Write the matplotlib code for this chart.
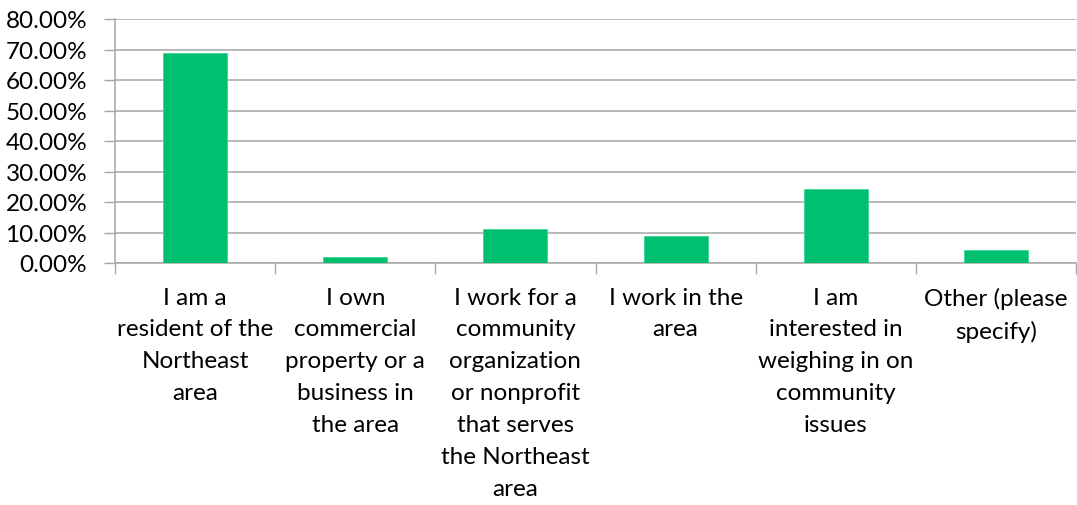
import matplotlib.pyplot as plt
from matplotlib.ticker import FuncFormatter, FixedLocator
import numpy as np

# ===============================
#  DATA
# ===============================
categories = [
    "I am a\nresident of the\nNortheast\narea",
    "I own\ncommercial\nproperty or a\nbusiness in\nthe area",
    "I work for a\ncommunity\norganization\nor nonprofit\nthat serves\nthe Northeast\narea",
    "I work in the\narea",
    "I am\ninterested in\nweighing in on\ncommunity\nissues",
    "Other (please\nspecify)",
]
percent = [68.9, 2.0, 11.05, 8.75, 24.25, 4.25]
y_ticks = [0, 10, 20, 30, 40, 50, 60, 70, 80]

# ===============================
#  STYLE
# ===============================
plt.rcParams['font.family'] = ['Lato', 'DejaVu Sans']
bar_color = "#00BF6F"
grid_color = "#A6A6A6"
font_size = 17.5

fig = plt.figure(figsize=(10.77, 5.06), dpi=100)
ax = fig.add_axes([115 / 1077, (506 - 264) / 506, (1076 - 115) / 1077, 244 / 506])

x = np.arange(len(categories))
ax.bar(x, percent, width=0.4, color=bar_color, edgecolor="#3dd693",
       linewidth=0.6, zorder=3)

ax.set_xlim(-0.5, len(categories) - 0.5)
ax.set_ylim(0, 80)

# y axis
ax.set_yticks(y_ticks)
ax.yaxis.set_major_formatter(FuncFormatter(lambda v, p: f"{v:.2f}%"))
ax.tick_params(axis="y", length=8, width=1, color=grid_color, pad=12,
               labelsize=font_size, labelcolor="#000000")
ax.grid(axis="y", color=grid_color, linewidth=1.1, zorder=0)

# x axis: ticks at the boundaries, labels at the centres
ax.xaxis.set_major_locator(FixedLocator(np.arange(-0.5, len(categories), 1.0)))
ax.xaxis.set_major_formatter(FuncFormatter(lambda v, p: ""))
ax.xaxis.set_minor_locator(FixedLocator(x))
ax.set_xticklabels(categories, minor=True)
ax.tick_params(axis="x", which="major", length=8, width=1, color=grid_color)
ax.tick_params(axis="x", which="minor", length=0, pad=17,
               labelsize=font_size, labelcolor="#000000")
for lbl in ax.get_xticklabels(minor=True):
    lbl.set_linespacing(1.64)
    lbl.set_verticalalignment("top")

for side in ["top", "right"]:
    ax.spines[side].set_visible(False)
ax.spines["left"].set_color(grid_color)
ax.spines["bottom"].set_color(grid_color)
ax.spines["left"].set_linewidth(1.1)
ax.spines["bottom"].set_linewidth(1.1)

fig.savefig("out.png", dpi=100)
